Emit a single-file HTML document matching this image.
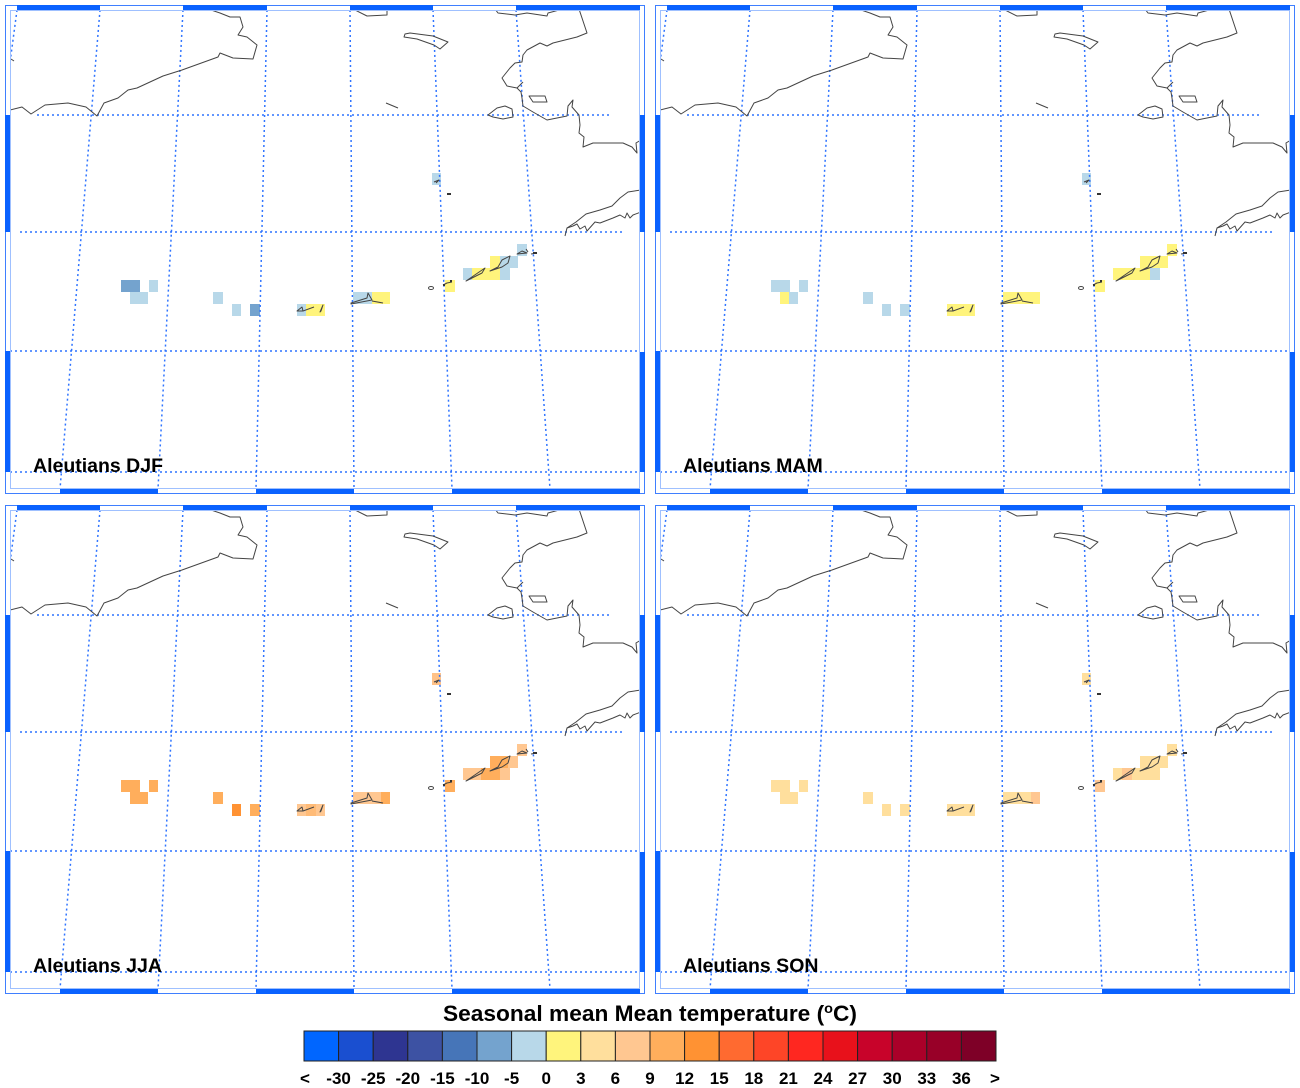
<!DOCTYPE html>
<html><head><meta charset="utf-8"><style>
html,body{margin:0;padding:0;background:#fff;}
svg{display:block;font-family:"Liberation Sans",Arial,sans-serif;}
</style></head><body>
<svg width="1300" height="1088" viewBox="0 0 1300 1088" xmlns="http://www.w3.org/2000/svg">
<defs>
<clipPath id="cp"><rect x="10" y="10" width="630" height="479"/></clipPath>
<g id="grid" clip-path="url(#cp)" fill="none" stroke="#2f74ff" stroke-width="1.5" stroke-dasharray="2 3">
<line x1="37" y1="115" x2="610" y2="115"/>
<line x1="20" y1="232" x2="624" y2="232"/>
<line x1="10" y1="351" x2="640" y2="351"/>
<line x1="10" y1="472" x2="640" y2="472"/>
<line x1="17" y1="10" x2="9" y2="70"/>
<line x1="100" y1="10" x2="60" y2="489"/>
<line x1="183" y1="10" x2="158" y2="489"/>
<line x1="267" y1="10" x2="256" y2="489"/>
<line x1="350" y1="10" x2="354" y2="489"/>
<line x1="433" y1="10" x2="452" y2="489"/>
<line x1="516" y1="10" x2="550" y2="489"/>
</g>
<g id="coast" clip-path="url(#cp)" fill="none" stroke="#444" stroke-width="1" stroke-linejoin="round">
<polyline points="10,110 22,107 31,114 45,105 68,103 86,107 97,116 104,103 118,98 128,90 137,88 163,76 182,70 218,57 220,53 233,58 253,59 257,45 247,37 238,35 243,27 240,17 230,17 220,13 208,9"/>
<polyline points="353,9 367,16 387,15 387,9"/>
<polyline points="495,9 498,13 515,15 527,13 547,16 548,13 563,9"/>
<polygon points="405,34 410,33 433,36 448,42 440,49 434,45 417,39 404,37"/>
<line x1="386" y1="103" x2="398" y2="108"/>
<polygon points="488,115 497,108 505,106 512,109 513,117 503,119 493,117"/>
<polyline points="579,9 587,33 577,37 553,43 547,46 540,43 527,50 523,55 522,62 515,63 510,68 502,78 507,86 517,88 521,92 522,98 523,106 533,112 547,120 567,116 568,106 573,100 572,107 579,115 580,125 579,133 584,137 583,147 593,143 607,143 623,143 632,147 637,153 636,143 641,140"/>
<line x1="517" y1="88" x2="523" y2="82"/>
<polygon points="529,96 545,96 547,102 533,102"/>
<polyline points="565,236 567,228 573,226 577,224 580,229 585,226 587,231 595,222 600,223 613,218 620,215 625,218 627,213 630,218 633,215 641,212"/>
<polyline points="567,228 576,222 586,214 600,210 612,206 620,198 628,192 641,190"/>
<polyline points="434,182 439,180 436,183"/>
<polyline points="173,9 176,10"/>
<polyline points="11,59 14,61"/>
<ellipse cx="431" cy="288" rx="2.5" ry="1.5"/>
<polyline points="443,285 447,283 452,282"/>
<polygon points="466,281 485,268 482,273"/>
<polygon points="490,271 498,267 502,260 510,256 508,263 502,267"/>
<polygon points="517,254 522,251 527,253"/>
<line x1="526" y1="249" x2="528" y2="252"/>
<line x1="531" y1="254" x2="537" y2="253"/>
<polygon points="351,303 367,298 368,293 372,300 351,304"/>
<line x1="372" y1="301" x2="383" y2="303"/>
<polygon points="297,311 302,307 303,311"/>
<line x1="303" y1="311" x2="314" y2="307"/>
<polygon points="320,312 323,305 321,311"/>
</g>
<g id="dots" fill="#333">
<rect x="447" y="193" width="4" height="2"/>
<rect x="450" y="280" width="2" height="2"/>
<rect x="443" y="284" width="2" height="2"/>
<rect x="533" y="252" width="4" height="2"/>
</g>
<g id="frame">
<rect x="5.5" y="5.5" width="639" height="488" fill="none" stroke="#3f7fff" stroke-width="1"/>
<rect x="10.5" y="10.5" width="629" height="478" fill="none" stroke="#9fc0ff" stroke-width="1"/>
<g fill="#0a62ff">
<rect x="17" y="5" width="83" height="5"/>
<rect x="183" y="5" width="84" height="5"/>
<rect x="350" y="5" width="83" height="5"/>
<rect x="516" y="5" width="124" height="5"/>
<rect x="60" y="489" width="98" height="5"/>
<rect x="256" y="489" width="98" height="5"/>
<rect x="452" y="489" width="188" height="5"/>
<rect x="5" y="115" width="5" height="117"/>
<rect x="5" y="351" width="5" height="121"/>
<rect x="640" y="115" width="5" height="117"/>
<rect x="640" y="352" width="5" height="120"/>
</g>
</g>
</defs>

<rect width="1300" height="1088" fill="#fff"/>

<!-- Panel 1 DJF -->
<g>
<g>
<rect x="121" y="280" width="19" height="12" fill="#74a3ce"/>
<rect x="149" y="280" width="9" height="12" fill="#b8d8e9"/>
<rect x="130" y="292" width="18" height="12" fill="#b8d8e9"/>
<rect x="213" y="292" width="10" height="12" fill="#b8d8e9"/>
<rect x="232" y="304" width="9" height="12" fill="#b8d8e9"/>
<rect x="250" y="304" width="10" height="12" fill="#74a3ce"/>
<rect x="297" y="304" width="9" height="12" fill="#b8d8e9"/>
<rect x="306" y="304" width="19" height="12" fill="#fff47c"/>
<rect x="353" y="292" width="19" height="12" fill="#b8d8e9"/>
<rect x="372" y="292" width="18" height="12" fill="#fff47c"/>
<rect x="445" y="280" width="10" height="12" fill="#fff47c"/>
<rect x="463" y="268" width="9" height="12" fill="#b8d8e9"/>
<rect x="472" y="268" width="28" height="12" fill="#fff47c"/>
<rect x="500" y="268" width="10" height="12" fill="#b8d8e9"/>
<rect x="490" y="256" width="10" height="12" fill="#fff47c"/>
<rect x="500" y="256" width="18" height="12" fill="#b8d8e9"/>
<rect x="517" y="244" width="10" height="12" fill="#b8d8e9"/>
<rect x="432" y="173" width="9" height="12" fill="#b8d8e9"/>
</g>
<use href="#grid"/><use href="#coast"/><use href="#dots"/><use href="#frame"/>
<text x="33" y="472" font-size="19.5" font-weight="bold" fill="#000">Aleutians DJF</text>
</g>

<!-- Panel 2 MAM -->
<g transform="translate(650,0)">
<g>
<rect x="121" y="280" width="19" height="12" fill="#b8d8e9"/>
<rect x="149" y="280" width="9" height="12" fill="#b8d8e9"/>
<rect x="130" y="292" width="9" height="12" fill="#fff47c"/>
<rect x="139" y="292" width="9" height="12" fill="#b8d8e9"/>
<rect x="213" y="292" width="10" height="12" fill="#b8d8e9"/>
<rect x="232" y="304" width="9" height="12" fill="#b8d8e9"/>
<rect x="250" y="304" width="10" height="12" fill="#b8d8e9"/>
<rect x="297" y="304" width="28" height="12" fill="#fff47c"/>
<rect x="353" y="292" width="37" height="12" fill="#fff47c"/>
<rect x="445" y="280" width="10" height="12" fill="#fff47c"/>
<rect x="463" y="268" width="37" height="12" fill="#fff47c"/>
<rect x="500" y="268" width="10" height="12" fill="#b8d8e9"/>
<rect x="490" y="256" width="28" height="12" fill="#fff47c"/>
<rect x="517" y="244" width="10" height="12" fill="#fff47c"/>
<rect x="432" y="173" width="9" height="12" fill="#b8d8e9"/>
</g>
<use href="#grid"/><use href="#coast"/><use href="#dots"/><use href="#frame"/>
<text x="33" y="472" font-size="19.5" font-weight="bold" fill="#000">Aleutians MAM</text>
</g>

<!-- Panel 3 JJA -->
<g transform="translate(0,500)">
<g>
<rect x="121" y="280" width="19" height="12" fill="#ffae5c"/>
<rect x="149" y="280" width="9" height="12" fill="#ffae5c"/>
<rect x="130" y="292" width="18" height="12" fill="#ffae5c"/>
<rect x="213" y="292" width="10" height="12" fill="#ffae5c"/>
<rect x="232" y="304" width="9" height="12" fill="#ff9233"/>
<rect x="250" y="304" width="10" height="12" fill="#ffae5c"/>
<rect x="297" y="304" width="9" height="12" fill="#ffc791"/>
<rect x="306" y="304" width="10" height="12" fill="#ffbb77"/>
<rect x="316" y="304" width="9" height="12" fill="#ffc791"/>
<rect x="353" y="292" width="28" height="12" fill="#ffc791"/>
<rect x="381" y="292" width="9" height="12" fill="#ffae5c"/>
<rect x="445" y="280" width="10" height="12" fill="#ffae5c"/>
<rect x="463" y="268" width="18" height="12" fill="#ffc791"/>
<rect x="481" y="268" width="19" height="12" fill="#ffae5c"/>
<rect x="500" y="268" width="10" height="12" fill="#ffc791"/>
<rect x="490" y="256" width="18" height="12" fill="#ffae5c"/>
<rect x="508" y="256" width="10" height="12" fill="#ffc791"/>
<rect x="517" y="244" width="10" height="12" fill="#ffc791"/>
<rect x="432" y="173" width="9" height="12" fill="#ffc288"/>
</g>
<use href="#grid"/><use href="#coast"/><use href="#dots"/><use href="#frame"/>
<text x="33" y="472" font-size="19.5" font-weight="bold" fill="#000">Aleutians JJA</text>
</g>

<!-- Panel 4 SON -->
<g transform="translate(650,500)">
<g>
<rect x="121" y="280" width="19" height="12" fill="#ffdf9d"/>
<rect x="149" y="280" width="9" height="12" fill="#ffdf9d"/>
<rect x="130" y="292" width="18" height="12" fill="#ffdf9d"/>
<rect x="213" y="292" width="10" height="12" fill="#ffdf9d"/>
<rect x="232" y="304" width="9" height="12" fill="#ffdf9d"/>
<rect x="250" y="304" width="10" height="12" fill="#ffdf9d"/>
<rect x="297" y="304" width="28" height="12" fill="#ffdf9d"/>
<rect x="353" y="292" width="28" height="12" fill="#ffdf9d"/>
<rect x="381" y="292" width="9" height="12" fill="#ffc791"/>
<rect x="445" y="280" width="10" height="12" fill="#ffc791"/>
<rect x="463" y="268" width="9" height="12" fill="#ffdf9d"/>
<rect x="472" y="268" width="10" height="12" fill="#ffc791"/>
<rect x="482" y="268" width="28" height="12" fill="#ffdf9d"/>
<rect x="490" y="256" width="28" height="12" fill="#ffdf9d"/>
<rect x="517" y="244" width="10" height="12" fill="#ffdf9d"/>
<rect x="432" y="173" width="9" height="12" fill="#ffdf9d"/>
</g>
<use href="#grid"/><use href="#coast"/><use href="#dots"/><use href="#frame"/>
<text x="33" y="472" font-size="19.5" font-weight="bold" fill="#000">Aleutians SON</text>
</g>

<!-- Colorbar -->
<text x="443" y="1021" font-size="22" font-weight="bold" fill="#000" textLength="414" lengthAdjust="spacingAndGlyphs">Seasonal mean Mean temperature (<tspan font-size="14" dy="-8">o</tspan><tspan dy="8">C)</tspan></text>
<g stroke="#222" stroke-width="1">
<rect x="304" y="1031" width="34.6" height="30" fill="#0066ff"/>
<rect x="338.6" y="1031" width="34.6" height="30" fill="#1a4fd0"/>
<rect x="373.2" y="1031" width="34.6" height="30" fill="#2e3591"/>
<rect x="407.8" y="1031" width="34.6" height="30" fill="#3d52a3"/>
<rect x="442.4" y="1031" width="34.6" height="30" fill="#4675b8"/>
<rect x="477" y="1031" width="34.6" height="30" fill="#74a3ce"/>
<rect x="511.6" y="1031" width="34.6" height="30" fill="#b8d8e9"/>
<rect x="546.2" y="1031" width="34.6" height="30" fill="#fff47c"/>
<rect x="580.8" y="1031" width="34.6" height="30" fill="#ffdf9d"/>
<rect x="615.4" y="1031" width="34.6" height="30" fill="#ffc791"/>
<rect x="650" y="1031" width="34.6" height="30" fill="#ffae5c"/>
<rect x="684.6" y="1031" width="34.6" height="30" fill="#ff9233"/>
<rect x="719.2" y="1031" width="34.6" height="30" fill="#ff6a30"/>
<rect x="753.8" y="1031" width="34.6" height="30" fill="#fe4527"/>
<rect x="788.4" y="1031" width="34.6" height="30" fill="#ff2720"/>
<rect x="823" y="1031" width="34.6" height="30" fill="#e8111b"/>
<rect x="857.6" y="1031" width="34.6" height="30" fill="#c8032a"/>
<rect x="892.2" y="1031" width="34.6" height="30" fill="#aa0029"/>
<rect x="926.8" y="1031" width="34.6" height="30" fill="#980028"/>
<rect x="961.4" y="1031" width="34.6" height="30" fill="#7e0027"/>
</g>
<g font-size="17" font-weight="bold" text-anchor="middle" fill="#000">
<text x="305" y="1084">&lt;</text>
<text x="338.6" y="1084">-30</text>
<text x="373.2" y="1084">-25</text>
<text x="407.8" y="1084">-20</text>
<text x="442.4" y="1084">-15</text>
<text x="477" y="1084">-10</text>
<text x="511.6" y="1084">-5</text>
<text x="546.2" y="1084">0</text>
<text x="580.8" y="1084">3</text>
<text x="615.4" y="1084">6</text>
<text x="650" y="1084">9</text>
<text x="684.6" y="1084">12</text>
<text x="719.2" y="1084">15</text>
<text x="753.8" y="1084">18</text>
<text x="788.4" y="1084">21</text>
<text x="823" y="1084">24</text>
<text x="857.6" y="1084">27</text>
<text x="892.2" y="1084">30</text>
<text x="926.8" y="1084">33</text>
<text x="961.4" y="1084">36</text>
<text x="995" y="1084">&gt;</text>
</g>
</svg>
</body></html>
